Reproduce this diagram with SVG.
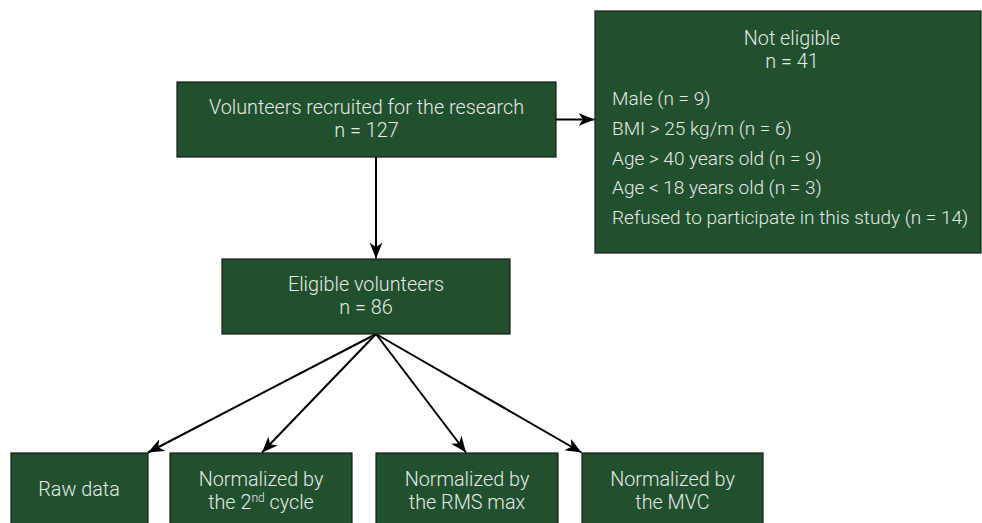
<svg xmlns="http://www.w3.org/2000/svg" width="982" height="523" viewBox="0 0 982 523">
<defs>
<style>
.box{fill:#21502f;stroke:#1a1a1a;stroke-width:1.2}
.t{font-family:Roboto,"Liberation Sans",sans-serif;font-weight:300;font-size:19.8px;fill:#e4eae4}
.l{font-size:19px}
.c{text-anchor:middle}
.edge{stroke:#000;stroke-width:2;fill:none;marker-end:url(#ah)}
</style>
<marker id="ah" markerUnits="userSpaceOnUse" markerWidth="17" markerHeight="14" refX="16" refY="6.5" orient="auto" viewBox="0 0 17 13">
<path d="M0,0 L16,6.5 L0,13 L4.5,6.5 Z" fill="#000"/>
</marker>
</defs>
<rect width="982" height="523" fill="#fff"/>
<g id="connectors">
<line class="edge" x1="556" y1="119.5" x2="594.5" y2="119.5"/>
<line class="edge" x1="376" y1="157" x2="376" y2="258.5"/>
<line class="edge" x1="376" y1="334" x2="148" y2="452.5"/>
<line class="edge" x1="376" y1="334" x2="262" y2="452.5"/>
<line class="edge" x1="376" y1="334" x2="466" y2="452.5"/>
<line class="edge" x1="376" y1="334" x2="581.5" y2="452.5"/>
</g>
<g id="recruited">
<rect class="box" x="177" y="82" width="379" height="75"/>
<text class="t c" x="366.5" y="113.5">Volunteers recruited for the research</text>
<text class="t c" x="366.5" y="137">n = 127</text>
</g>
<g id="not-eligible">
<rect class="box" x="595" y="11" width="386" height="242"/>
<text class="t c" x="792" y="44.5">Not eligible</text>
<text class="t c" x="792" y="68">n = 41</text>
<text class="t l" x="612" y="105">Male (n = 9)</text>
<text class="t l" x="612" y="135">BMI &gt; 25 kg/m (n = 6)</text>
<text class="t l" x="612" y="164.5">Age &gt; 40 years old (n = 9)</text>
<text class="t l" x="612" y="194">Age &lt; 18 years old (n = 3)</text>
<text class="t l" x="612" y="223.5">Refused to participate in this study (n = 14)</text>
</g>
<g id="eligible">
<rect class="box" x="222" y="259" width="288" height="75"/>
<text class="t c" x="366" y="290.5">Eligible volunteers</text>
<text class="t c" x="366" y="313.5">n = 86</text>
</g>
<g id="raw">
<rect class="box" x="11" y="453" width="137" height="80"/>
<text class="t c" x="79" y="496">Raw data</text>
</g>
<g id="second-cycle">
<rect class="box" x="170" y="453" width="182" height="80"/>
<text class="t c" x="261" y="486">Normalized by</text>
<text class="t c" x="261" y="508.5">the 2<tspan font-size="12" dy="-7">nd</tspan><tspan dy="7"> cycle</tspan></text>
</g>
<g id="rms">
<rect class="box" x="376" y="453" width="182" height="80"/>
<text class="t c" x="467" y="486">Normalized by</text>
<text class="t c" x="467" y="508.5">the RMS max</text>
</g>
<g id="mvc">
<rect class="box" x="582" y="453" width="181" height="80"/>
<text class="t c" x="672.5" y="486">Normalized by</text>
<text class="t c" x="672.5" y="508.5">the MVC</text>
</g>
</svg>
